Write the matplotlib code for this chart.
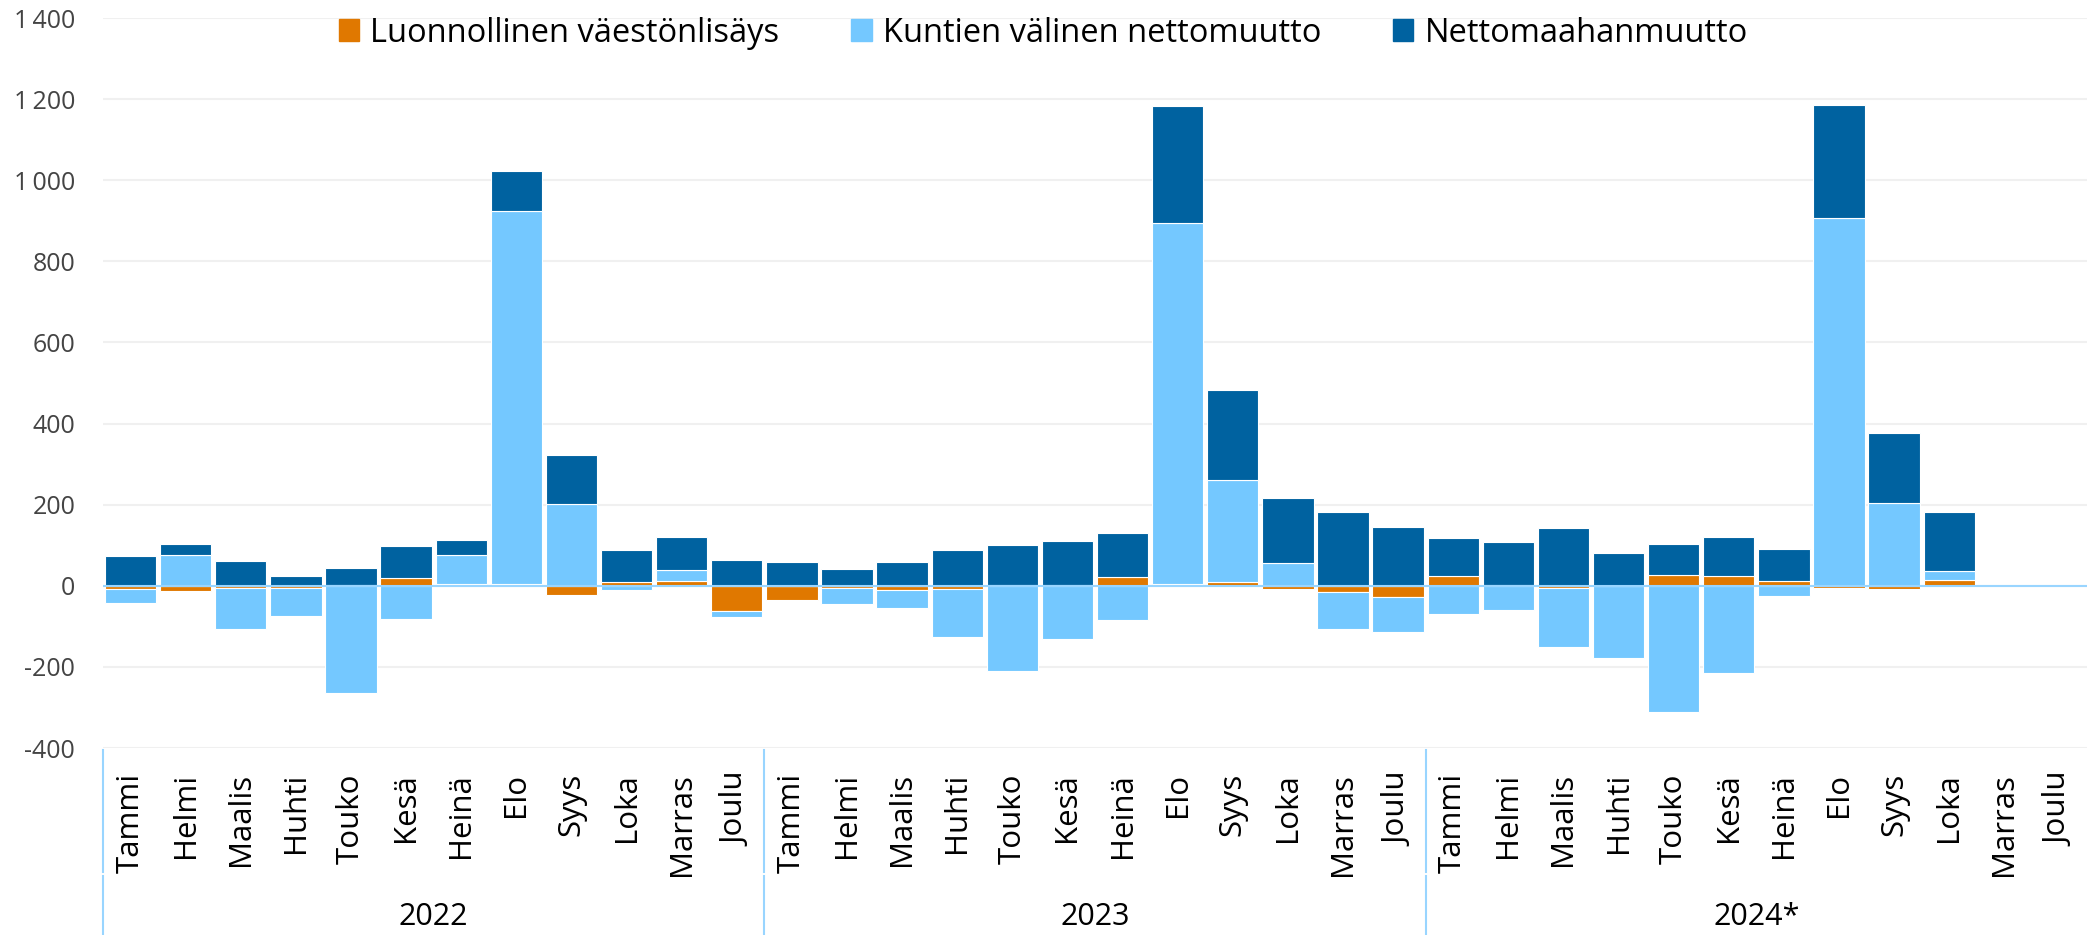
import numpy as np
import matplotlib.pyplot as plt
import matplotlib.transforms as mtransforms
from matplotlib.patches import Rectangle

plt.rcParams['font.family'] = ['Open Sans', 'DejaVu Sans']

kuukaudet = ["Tammi", "Helmi", "Maalis", "Huhti", "Touko", "Kesä",
             "Heinä", "Elo", "Syys", "Loka", "Marras", "Joulu"]
vuodet = ["2022", "2023", "2024*"]

# Luonnollinen väestönlisäys
luonnollinen = [-7, -12, -5, -5, 1, 18, 5, 4, -23, 9, 12, -62,
                -35, -5, -10, -8, 1, 3, 21, 5, 9, -8, -16, -28,
                23, 1, -5, -1, 26, 24, 12, -5, -8, 14, np.nan, np.nan]
# Kuntien välinen nettomuutto
kuntien_valinen = [-35, 76, -101, -69, -265, -83, 71, 921, 201, -10, 26, -14,
                   0, -41, -44, -118, -210, -132, -85, 889, 253, 57, -91, -87,
                   -69, -59, -145, -176, -311, -215, -25, 906, 203, 22, np.nan, np.nan]
# Nettomaahanmuutto
nettomaahanmuutto = [73, 28, 61, 24, 42, 79, 36, 98, 121, 78, 83, 63,
                     58, 42, 59, 87, 100, 107, 109, 289, 221, 159, 183, 146,
                     94, 108, 143, 80, 78, 97, 79, 279, 173, 146, np.nan, np.nan]

sarjat = [
    ("Luonnollinen väestönlisäys", luonnollinen, "#E07800"),
    ("Kuntien välinen nettomuutto", kuntien_valinen, "#74C8FF"),
    ("Nettomaahanmuutto", nettomaahanmuutto, "#0062A0"),
]

n = len(kuukaudet) * len(vuodet)
x = np.arange(n)

fig = plt.figure(figsize=(20.87, 9.35), dpi=100)
ax = fig.add_axes([103 / 2087, 187 / 935, 1 - 103 / 2087, 730 / 935])

# pinotaan positiiviset ylös ja negatiiviset alas erikseen
pos = np.zeros(n)
neg = np.zeros(n)
for nimi, arvot, vari in sarjat:
    v = np.array(arvot, dtype=float)
    vv = np.nan_to_num(v)
    pohja = np.where(vv >= 0, pos, neg)
    ax.bar(x, v, bottom=pohja, width=0.93, color=vari, edgecolor="white",
           linewidth=0.8, label=nimi, zorder=3)
    pos = pos + np.where(vv > 0, vv, 0)
    neg = neg + np.where(vv < 0, vv, 0)

ax.set_xlim(-0.5, n - 0.5)
ax.set_ylim(-400, 1400)
yt = np.arange(-400, 1401, 200)
ax.set_yticks(yt)
ax.set_yticklabels([f"{t:,}".replace(",", "\u2009") for t in yt],
                   fontsize=18, color="#444444")
ax.grid(axis="y", color="#F0F0F0", linewidth=1.5, zorder=0)
ax.axhline(0, color="#99D5FF", linewidth=1.5, zorder=4)
for s in ax.spines.values():
    s.set_visible(False)
ax.tick_params(axis="y", length=0, pad=20)

ax.set_xticks(x)
ax.set_xticklabels(kuukaudet * len(vuodet), rotation=90, va="top",
                   ha="center", fontsize=22.5)
ax.tick_params(axis="x", length=0, pad=18)

trans = mtransforms.blended_transform_factory(ax.transData, ax.transAxes)
for i, vuosi in enumerate(vuodet):
    keski = i * 12 + 5.5
    ax.text(keski, -0.232, vuosi, transform=trans, ha="center", va="center",
            fontsize=22, clip_on=False)
    xr = i * 12 - 0.5
    ax.plot([xr, xr], [-0.003, -0.17], transform=trans, color="#99D5FF",
            linewidth=1.5, clip_on=False)
    ax.plot([xr, xr], [-0.176, -0.26], transform=trans, color="#99D5FF",
            linewidth=1.5, clip_on=False)

kahvat = [Rectangle((0, 0), 1, 1, color=v) for _, _, v in sarjat]
fig.legend(kahvat, [s[0] for s in sarjat], loc="center",
           bbox_to_anchor=(0.5, 1 - 33 / 935), ncol=3, frameon=False,
           fontsize=23.5, handlelength=0.62, handleheight=0.62,
           handletextpad=0.35, columnspacing=2.2)

fig.savefig("out.png", dpi=100)
